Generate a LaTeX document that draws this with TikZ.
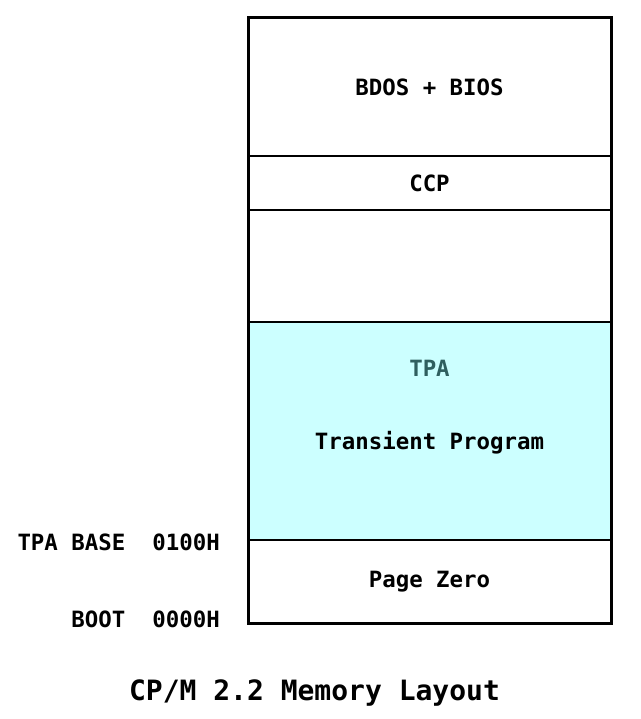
\documentclass[tikz,border=0pt]{standalone}
\usepackage{fontspec}
\setmonofont{DejaVu Sans Mono}
\usetikzlibrary{positioning}
\definecolor{tpacyan}{HTML}{CCFFFF}
\definecolor{tpateal}{HTML}{2F5F5F}
\tikzstyle{region} = [draw, rectangle, line width=1.5pt, outer sep=0pt,
    minimum width=363pt, inner sep=0pt, font=\fontsize{22.4}{26}\selectfont\ttfamily\bfseries]
\tikzstyle{addr} = [anchor=east, inner sep=0pt, font=\fontsize{22.4}{26}\selectfont\ttfamily\bfseries]

\begin{document}
\begin{tikzpicture}[x=1pt, y=-1pt, node distance=0pt]
    \useasboundingbox (0,0) rectangle (640,719);
    \node [region, minimum height=138pt, anchor=north west] (bios) at (248,18) {BDOS + BIOS};
    \node [region, minimum height=54pt, below=of bios] (ccp) {CCP};
    \node [region, minimum height=112pt, below=of ccp] (free) {};
    \node [region, minimum height=218pt, fill=tpacyan, below=of free] (tpa) {};
    \node [region, minimum height=83pt, below=of tpa] (zero) {Page Zero};
    \draw [line width=3pt] (bios.north west) rectangle (zero.south east);

    \node [region, draw=none, text=tpateal, anchor=center] (tpaname) at (429.5,368) {TPA};
    \node [region, draw=none, anchor=center] (tpadesc) at (429.5,443) {Transient Program};

    \node [addr] (tpabase) at ([xshift=-28pt, yshift=-2pt]tpa.south west) {TPA BASE~~0100H};
    \node [addr] (boot) at ([xshift=-28pt, yshift=4pt]zero.south west) {BOOT~~0000H};

    \node [font=\fontsize{28}{32}\selectfont\ttfamily\bfseries] (title) at (314.5,693) {CP/M 2.2 Memory Layout};
\end{tikzpicture}
\end{document}
